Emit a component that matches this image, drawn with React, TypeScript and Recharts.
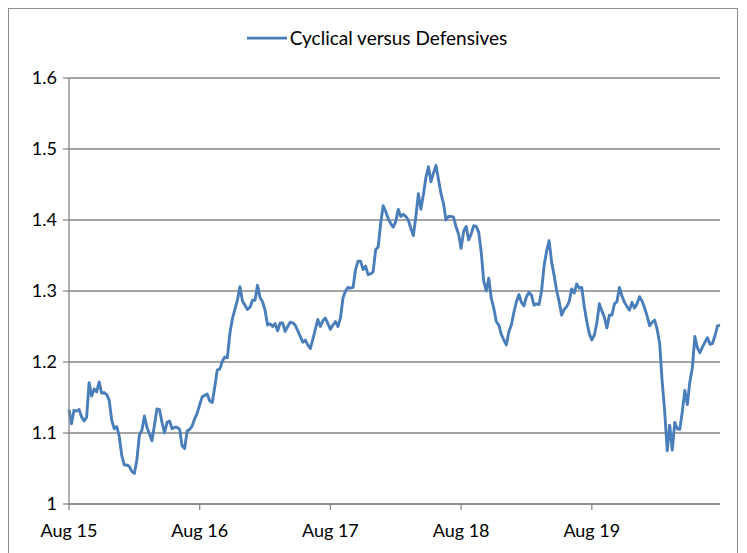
import { LineChart, Line, XAxis, YAxis, CartesianGrid } from "recharts";

// weekly readings, one array per year starting in August
const year2015 = [
  1.133, 1.113, 1.132, 1.131, 1.133, 1.123, 1.117, 1.122, 1.171, 1.152,
  1.162, 1.158, 1.172, 1.156, 1.157, 1.154, 1.146, 1.118, 1.106, 1.109,
  1.095, 1.068, 1.055, 1.055, 1.053, 1.046, 1.043, 1.062, 1.097, 1.104,
  1.124, 1.108, 1.099, 1.089, 1.111, 1.134, 1.133, 1.115, 1.1, 1.115,
  1.117, 1.106, 1.108, 1.108, 1.105, 1.082, 1.078, 1.103, 1.105, 1.11,
  1.12, 1.128,
];
const year2016 = [
  1.14, 1.151, 1.153, 1.155, 1.145, 1.143, 1.165, 1.189, 1.19, 1.201,
  1.207, 1.206, 1.24, 1.261, 1.274, 1.287, 1.306, 1.286, 1.28, 1.274,
  1.277, 1.287, 1.287, 1.308, 1.291, 1.285, 1.273, 1.252, 1.254, 1.25,
  1.254, 1.244, 1.255, 1.255, 1.243, 1.25, 1.256, 1.255, 1.252, 1.244,
  1.236, 1.228, 1.231, 1.224, 1.219, 1.232, 1.246, 1.26, 1.25, 1.258,
  1.262, 1.254,
];
const year2017 = [
  1.246, 1.252, 1.257, 1.25, 1.262, 1.29, 1.3, 1.305, 1.304, 1.305,
  1.33, 1.342, 1.342, 1.33, 1.335, 1.323, 1.324, 1.327, 1.358, 1.362,
  1.395, 1.42, 1.412, 1.402, 1.395, 1.39, 1.398, 1.415, 1.405, 1.408,
  1.405, 1.4, 1.388, 1.378, 1.405, 1.437, 1.415, 1.436, 1.46, 1.475,
  1.454, 1.466, 1.477, 1.457, 1.437, 1.423, 1.4, 1.405, 1.405, 1.404,
  1.39, 1.38,
];
const year2018 = [
  1.36, 1.384, 1.391, 1.372, 1.38, 1.392, 1.391, 1.383, 1.355, 1.314,
  1.3, 1.318, 1.29, 1.276, 1.257, 1.252, 1.239, 1.231, 1.224, 1.243,
  1.252, 1.27, 1.285, 1.295, 1.284, 1.279, 1.292, 1.298, 1.294, 1.28,
  1.282, 1.281, 1.3, 1.335, 1.356, 1.371, 1.341, 1.322, 1.301, 1.285,
  1.266, 1.274, 1.278, 1.285, 1.303, 1.297, 1.31, 1.304, 1.305, 1.278,
  1.257, 1.24,
];
const year2019 = [
  1.231, 1.238, 1.255, 1.282, 1.272, 1.263, 1.248, 1.266, 1.266, 1.282,
  1.285, 1.305, 1.293, 1.284, 1.278, 1.273, 1.284, 1.276, 1.282, 1.292,
  1.286, 1.276, 1.265, 1.251, 1.256, 1.259, 1.246, 1.226, 1.172, 1.13,
  1.075, 1.111, 1.076, 1.115, 1.106, 1.105, 1.13, 1.16, 1.14, 1.172,
  1.192, 1.236, 1.22, 1.213, 1.221, 1.228, 1.234, 1.225, 1.226, 1.237,
  1.251, 1.252,
];

const xTickWeeks = [0, 52, 104, 156, 208];
const xTickLabels = ["Aug 15", "Aug 16", "Aug 17", "Aug 18", "Aug 19"];
const yTicks = [1, 1.1, 1.2, 1.3, 1.4, 1.5, 1.6];
const seriesName = "Cyclical versus Defensives";

const values = [...year2015, ...year2016, ...year2017, ...year2018, ...year2019];
const data = values.map((v, i) => ({ week: i, ratio: v }));

const FONT = "Lato, 'Open Sans', sans-serif";
const GRID = "#868686";
const LINE = "#4a7ebb";

export default function App() {
  return (
    <div
      style={{
        position: "relative",
        width: 728,
        height: 545,
        border: "1px solid #8c8c8c",
        background: "#fff",
        fontFamily: FONT,
      }}
    >
      <div
        style={{
          position: "absolute",
          top: 17,
          left: 4,
          width: "100%",
          display: "flex",
          justifyContent: "center",
          alignItems: "center",
          fontSize: 19,
          color: "#000",
        }}
      >
        <svg width={40} height={10} style={{ marginRight: 3 }}>
          <line x1={0} y1={5} x2={40} y2={5} stroke={LINE} strokeWidth={2.75} />
        </svg>
        <span>{seriesName}</span>
      </div>
      <LineChart width={728} height={545} data={data} margin={{ top: 69, right: 17, left: 0, bottom: 20 }}>
        <CartesianGrid vertical={false} stroke={GRID} strokeWidth={1.3} />
        <XAxis
          dataKey="week"
          type="number"
          domain={[0, values.length - 1]}
          ticks={xTickWeeks}
          tickFormatter={(v: number) => xTickLabels[xTickWeeks.indexOf(v)]}
          height={30}
          tickSize={6}
          tickMargin={14}
          stroke={GRID}
          strokeWidth={1.3}
          tick={{ fill: "#000", fontSize: 18, fontFamily: FONT }}
        />
        <YAxis
          domain={[1, 1.6]}
          ticks={yTicks}
          width={60}
          tickSize={6}
          tickMargin={6}
          stroke={GRID}
          strokeWidth={1.3}
          tickFormatter={(v: number) => String(+v.toFixed(1))}
          tick={{ fill: "#000", fontSize: 18, fontFamily: FONT }}
          interval={0}
        />
        <Line
          type="linear"
          dataKey="ratio"
          name={seriesName}
          stroke={LINE}
          strokeWidth={2.9}
          dot={false}
          isAnimationActive={false}
          strokeLinejoin="round"
        />
      </LineChart>
    </div>
  );
}
